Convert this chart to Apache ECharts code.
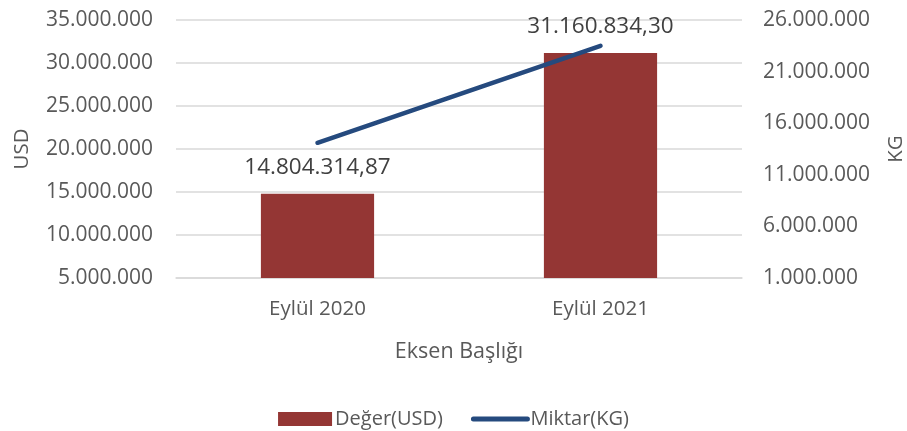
<!DOCTYPE html>
<html>
<head>
<meta charset="utf-8">
<script src="https://cdn.jsdelivr.net/npm/echarts@6/dist/echarts.min.js"></script>
<style>
    html, body { margin: 0; padding: 0; background: #fff; }
    #main { width: 907px; height: 431px; }
</style>
</head>
<body>
<div id="main"></div>
<script>
// kategoriler
let categories = ['Eylül 2020', 'Eylül 2021'];
// Değer (USD)
let degerUSD = [14804314.87, 31160834.30];
// Miktar (KG)
let miktarKG = [14100000, 23500000];

let textColor = '#595959';
let fontFamily = '"Open Sans", "Noto Sans", sans-serif';

// binlik ayraç nokta, ondalık virgül
function trFormat(val, dec) {
    let parts = Number(val).toFixed(dec).split('.');
    let int = parts[0].replace(/\B(?=(\d{3})+(?!\d))/g, '.');
    return parts.length > 1 ? int + ',' + parts[1] : int;
}

let myChart = echarts.init(document.getElementById('main'));

let option = {
    animation: false,
    textStyle: { fontFamily: fontFamily },
    grid: {
        left: 176,
        right: 165,
        top: 20,
        bottom: 153,
        outerBoundsMode: 'none',
        containLabel: false
    },
    legend: {
        top: 404,
        left: 'center',
        itemWidth: 54,
        itemHeight: 14,
        itemGap: 28,
        textStyle: { fontSize: 20, color: textColor, fontFamily: fontFamily, padding: [0, 0, 0, -2] },
        data: [
            { name: 'Değer(USD)', icon: 'rect' },
            { name: 'Miktar(KG)', itemStyle: { opacity: 0 }, lineStyle: { width: 5, cap: 'round' } }
        ]
    },
    xAxis: {
        type: 'category',
        data: categories,
        name: 'Eksen Başlığı',
        nameLocation: 'middle',
        nameGap: 63,
        nameTextStyle: { fontSize: 21.5, color: textColor },
        axisLine: { show: true, lineStyle: { color: '#d9d9d9', width: 1.5 } },
        axisTick: { show: false },
        axisLabel: { fontSize: 20.5, color: textColor, margin: 21 }
    },
    yAxis: [
        {
            type: 'value',
            name: 'USD',
            nameLocation: 'middle',
            nameGap: 143,
            nameTextStyle: { fontSize: 20.5, color: textColor },
            min: 5000000,
            max: 35000000,
            interval: 5000000,
            axisLine: { show: false },
            axisTick: { show: false },
            splitLine: { lineStyle: { color: '#d9d9d9', width: 1.5 } },
            axisLabel: {
                fontSize: 21,
                color: textColor,
                margin: 23,
                formatter: v => trFormat(v, 0)
            }
        },
        {
            type: 'value',
            name: 'KG',
            nameLocation: 'middle',
            nameGap: 144,
            nameTextStyle: { fontSize: 20.5, color: textColor },
            min: 1000000,
            max: 26000000,
            interval: 5000000,
            axisLine: { show: false },
            axisTick: { show: false },
            splitLine: { show: false },
            axisLabel: {
                fontSize: 21,
                color: textColor,
                margin: 21,
                formatter: v => trFormat(v, 0)
            }
        }
    ],
    series: [
        {
            name: 'Değer(USD)',
            type: 'bar',
            yAxisIndex: 0,
            barWidth: '40%',
            data: degerUSD,
            itemStyle: { color: '#943634' },
            label: {
                show: true,
                position: 'top',
                distance: 15,
                fontSize: 22.5,
                color: '#404040',
                formatter: p => trFormat(p.value, 2)
            }
        },
        {
            name: 'Miktar(KG)',
            type: 'line',
            yAxisIndex: 1,
            data: miktarKG,
            symbol: 'none',
            lineStyle: { color: '#254a7e', width: 4.5, cap: 'round' },
            itemStyle: { color: '#254a7e' }
        }
    ]
};

myChart.setOption(option);
</script>
</body>
</html>
